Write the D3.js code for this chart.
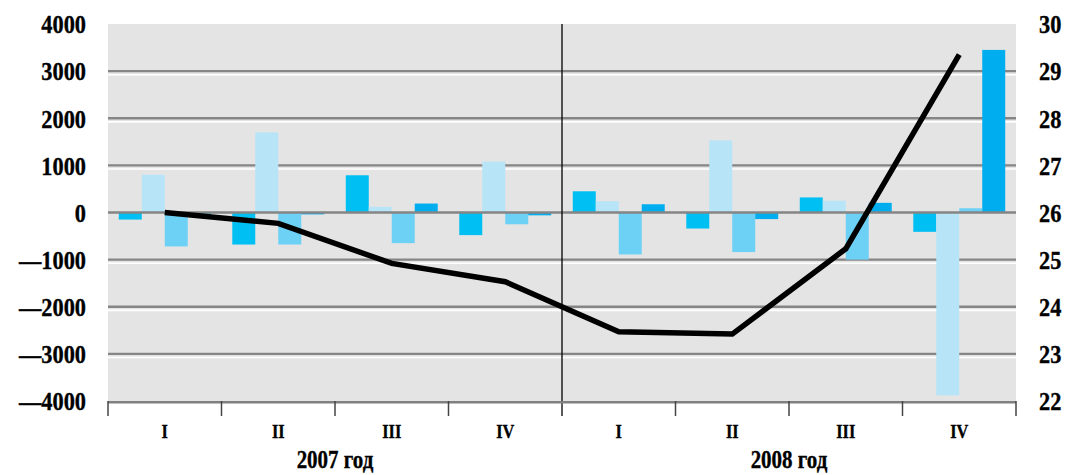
<!DOCTYPE html>
<html><head><meta charset="utf-8">
<script src="https://cdn.jsdelivr.net/npm/d3@7"></script>
<style>
body{margin:0;background:#fff;}
text{font-family:"Liberation Serif","Times New Roman",serif;font-weight:bold;fill:#000;stroke:#000;stroke-width:0.35px;}
</style></head>
<body><svg id="c" width="1066" height="475"></svg>
<script>
const quarters = ["I","II","III","IV","I","II","III","IV"];
const years = ["2007 год","2008 год"];
const series1 = [-150, -680, 790, -480, 450, -340, 320, -410];
const series2 = [800, 1700, 120, 1080, 240, 1530, 250, -3880];
const series3 = [-720, -680, -650, -250, -890, -840, -1000, 90];
const series4 = [-70, -40, 190, -60, 175, -140, 205, 3450];
const lineValues = [26.0, 25.77, 24.92, 24.53, 23.47, 23.42, 25.23, 29.35];
const leftTicks = [4000,3000,2000,1000,0,-1000,-2000,-3000,-4000];
const rightTicks = [22,23,24,25,26,27,28,29,30];
const colors = ["#00bff3","#b8e4f8","#6dd1f6","#00aeef"];

const svg = d3.select("#c");
const L=108, R=1016, T=24, B=401;
const x = d3.scaleBand().domain(d3.range(8)).range([L,R]).paddingInner(0.19).paddingOuter(0.095);
const step = (R-L)/8;
const xs = d3.scaleBand().domain(d3.range(4)).range([0, x.bandwidth()]);
const y = d3.scaleLinear().domain([-4000,4000]).range([B,T]);
const y2 = d3.scaleLinear().domain([22,30]).range([B,T]);

svg.append("rect").attr("x",L).attr("y",T).attr("width",R-L).attr("height",B-T).attr("fill","#e4e4e4");

const g = svg.append("g");
leftTicks.filter(v=>v>-4000 && v<4000 && v!==0).forEach(v=>{
  g.append("line").attr("x1",L).attr("x2",R).attr("y1",y(v)).attr("y2",y(v)).attr("stroke","#858585").attr("stroke-width",2.4);
  g.append("line").attr("x1",L).attr("x2",R).attr("y1",y(v)+3.6).attr("y2",y(v)+3.6).attr("stroke","#ffffff").attr("stroke-width",1.6);
});

const all = [series1,series2,series3,series4];
all.forEach((s,si)=>{
  svg.append("g").selectAll("rect").data(s).join("rect")
    .attr("x",(d,i)=>x(i)+xs(si))
    .attr("width",xs.bandwidth())
    .attr("y",d=>Math.min(y(d),y(0)))
    .attr("height",d=>Math.abs(y(d)-y(0)))
    .attr("fill",colors[si]);
});
svg.append("line").attr("x1",L).attr("x2",R).attr("y1",y(0)).attr("y2",y(0)).attr("stroke","#858585").attr("stroke-width",2.4);

// divider
svg.append("line").attr("x1",L+step*4).attr("x2",L+step*4).attr("y1",T).attr("y2",B+15).attr("stroke","#000").attr("stroke-width",1.3);

// bottom axis
svg.append("line").attr("x1",L).attr("x2",R).attr("y1",B+1.2).attr("y2",B+1.2).attr("stroke","#808080").attr("stroke-width",2.4);
d3.range(9).forEach(i=>{
  if(i===4) return;
  svg.append("line").attr("x1",L+step*i).attr("x2",L+step*i).attr("y1",B).attr("y2",B+15).attr("stroke","#444").attr("stroke-width",1.5);
});

// line
const line = d3.line().x((d,i)=>x(i)+x.bandwidth()/2).y(d=>y2(d));
svg.append("path").datum(lineValues).attr("d",line).attr("fill","none").attr("stroke","#000").attr("stroke-width",5.5).attr("stroke-linejoin","miter");

const sx = 0.86;
// left labels
svg.append("g").selectAll("text").data(leftTicks).join("text")
  .attr("transform",d=>`translate(86,${y(d)}) scale(${sx},1)`).attr("dy","0.36em").attr("text-anchor","end")
  .attr("font-size",26).text(d=>d<0?"—"+Math.abs(d):d);
// right labels
svg.append("g").selectAll("text").data(rightTicks).join("text")
  .attr("transform",d=>`translate(1039,${y2(d)}) scale(${sx},1)`).attr("dy","0.36em").attr("text-anchor","start")
  .attr("font-size",26).text(d=>d);
// quarter labels
svg.append("g").selectAll("text").data(quarters).join("text")
  .attr("transform",(d,i)=>`translate(${L+step*(i+0.5)},431) scale(${sx},1)`).attr("dy","0.36em").attr("text-anchor","middle")
  .attr("font-size",19).text(d=>d);
svg.append("g").selectAll("text").data(years).join("text")
  .attr("transform",(d,i)=>`translate(${L+step*(i*4+2)},459) scale(0.84,1)`).attr("dy","0.36em").attr("text-anchor","middle")
  .attr("font-size",25).text(d=>d);
</script></body></html>
